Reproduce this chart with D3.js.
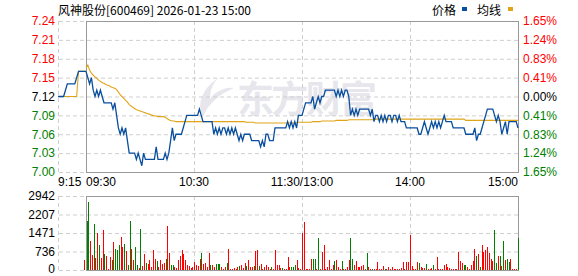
<!DOCTYPE html>
<html>
<head>
<meta charset="utf-8">
<script src="https://cdn.jsdelivr.net/npm/d3@7"></script>
<style>
  body { margin: 0; background: #fff; }
  svg { display: block; font-family: "Liberation Sans", Arial, sans-serif; }
</style>
</head>
<body>
<svg id="chart" width="578" height="276"></svg>
<script>
// --- data ---
let prevClose = 7.12

let priceTicks = [7.24, 7.21, 7.18, 7.15, 7.12, 7.09, 7.06, 7.03, 7.00]
let pctLabels = ['1.65%', '1.24%', '0.83%', '0.41%', '0.00%', '0.41%', '0.83%', '1.24%', '1.65%']
let volTicks = [0, 736, 1471, 2207, 2942]

let timeLabels = ['9:15', '09:30', '10:30', '11:30/13:00', '14:00', '15:00']
let timeIdx = [null, 0, 60, 120, 180, 240]   // minute index after 09:30 (9:15 is pre-market)

// 9:15 - 9:30 auction (one point per minute)
let prePrice = [7.12, 7.12, 7.12, 7.12, 7.13, 7.14, 7.14, 7.14, 7.14, 7.14, 7.15, 7.16, 7.16, 7.16, 7.16, 7.16]
let preAvg   = [7.12, 7.12, 7.12, 7.12, 7.12, 7.12, 7.12, 7.12, 7.12, 7.12, 7.12, 7.16, 7.16, 7.16, 7.16, 7.16]
let preVol = 398

// 09:30 - 15:00, one point per minute
let price = [
  7.16, 7.15, 7.14, 7.15, 7.13, 7.12, 7.13, 7.12, 7.13, 7.12, 7.11,
  7.11, 7.11, 7.11, 7.11, 7.10, 7.11, 7.09, 7.07, 7.06, 7.07,
  7.06, 7.07, 7.05, 7.03, 7.03, 7.03, 7.03, 7.02, 7.03, 7.02,
  7.01, 7.03, 7.02, 7.02, 7.02, 7.02, 7.02, 7.02, 7.04, 7.02,
  7.02, 7.02, 7.02, 7.03, 7.02, 7.03, 7.05, 7.07, 7.05, 7.06,
  7.06, 7.06, 7.06, 7.07, 7.08, 7.09, 7.09, 7.09, 7.09, 7.09,
  7.09, 7.09, 7.10, 7.09, 7.08, 7.08, 7.08, 7.08, 7.08, 7.08,
  7.06, 7.07, 7.06, 7.07, 7.06, 7.07, 7.07, 7.06, 7.07, 7.06,
  7.07, 7.06, 7.07, 7.06, 7.05, 7.06, 7.05, 7.06, 7.06, 7.06,
  7.06, 7.05, 7.05, 7.05, 7.05, 7.05, 7.04, 7.05, 7.04, 7.06,
  7.06, 7.05, 7.05, 7.05, 7.07, 7.07, 7.07, 7.07, 7.07, 7.07,
  7.07, 7.08, 7.07, 7.08, 7.07, 7.08, 7.07, 7.09, 7.09, 7.09,
  7.10, 7.11, 7.11, 7.11, 7.11, 7.12, 7.10, 7.11, 7.12, 7.11,
  7.12, 7.12, 7.13, 7.13, 7.13, 7.13, 7.13, 7.13, 7.12, 7.13,
  7.12, 7.13, 7.12, 7.13, 7.13, 7.12, 7.09, 7.10, 7.09, 7.10,
  7.09, 7.10, 7.10, 7.10, 7.10, 7.10, 7.10, 7.09, 7.10, 7.08,
  7.09, 7.09, 7.08, 7.09, 7.08, 7.09, 7.08, 7.09, 7.09, 7.08,
  7.09, 7.09, 7.08, 7.09, 7.08, 7.08, 7.08, 7.07, 7.07, 7.07,
  7.07, 7.07, 7.07, 7.07, 7.06, 7.06, 7.07, 7.08, 7.07, 7.06,
  7.07, 7.08, 7.07, 7.08, 7.07, 7.08, 7.07, 7.08, 7.09, 7.08,
  7.08, 7.08, 7.08, 7.07, 7.07, 7.07, 7.07, 7.07, 7.07, 7.07,
  7.06, 7.06, 7.06, 7.06, 7.06, 7.07, 7.05, 7.06, 7.06, 7.07,
  7.08, 7.09, 7.10, 7.10, 7.10, 7.10, 7.09, 7.08, 7.09, 7.08,
  7.06, 7.07, 7.08, 7.06, 7.08, 7.08, 7.08, 7.08, 7.08, 7.07
]

let avgPrice = [
  7.165, 7.170, 7.162, 7.157, 7.154, 7.151, 7.149, 7.146, 7.144, 7.142, 7.141,
  7.139, 7.138, 7.137, 7.135, 7.134, 7.133, 7.131, 7.127, 7.123, 7.120,
  7.117, 7.114, 7.111, 7.107, 7.105, 7.103, 7.101, 7.099, 7.098, 7.097,
  7.096, 7.095, 7.094, 7.093, 7.092, 7.091, 7.090, 7.089, 7.089, 7.088,
  7.088, 7.088, 7.088, 7.087, 7.085, 7.083, 7.082, 7.081, 7.081, 7.080,
  7.080, 7.080, 7.080, 7.080, 7.080, 7.080, 7.080, 7.080, 7.080, 7.080,
  7.080, 7.080, 7.080, 7.080, 7.080, 7.080, 7.080, 7.080, 7.080, 7.080,
  7.080, 7.080, 7.080, 7.080, 7.080, 7.080, 7.080, 7.080, 7.080, 7.080,
  7.080, 7.080, 7.080, 7.080, 7.080, 7.080, 7.080, 7.080, 7.079, 7.079,
  7.079, 7.079, 7.079, 7.078, 7.078, 7.078, 7.078, 7.078, 7.078, 7.078,
  7.078, 7.078, 7.078, 7.078, 7.078, 7.078, 7.078, 7.078, 7.078, 7.078,
  7.078, 7.078, 7.078, 7.078, 7.078, 7.078, 7.078, 7.079, 7.079, 7.079,
  7.079, 7.079, 7.079, 7.079, 7.079, 7.080, 7.080, 7.080, 7.080, 7.080,
  7.081, 7.081, 7.081, 7.081, 7.081, 7.081, 7.081, 7.081, 7.082, 7.082,
  7.082, 7.082, 7.082, 7.082, 7.082, 7.083, 7.083, 7.083, 7.083, 7.083,
  7.083, 7.083, 7.083, 7.083, 7.083, 7.083, 7.083, 7.083, 7.083, 7.083,
  7.084, 7.084, 7.084, 7.084, 7.084, 7.084, 7.084, 7.084, 7.084, 7.084,
  7.084, 7.084, 7.084, 7.084, 7.084, 7.084, 7.084, 7.084, 7.084, 7.084,
  7.084, 7.084, 7.084, 7.084, 7.084, 7.084, 7.084, 7.084, 7.084, 7.084,
  7.084, 7.084, 7.084, 7.084, 7.084, 7.084, 7.084, 7.084, 7.084, 7.084,
  7.084, 7.084, 7.084, 7.084, 7.084, 7.084, 7.084, 7.084, 7.084, 7.084,
  7.082, 7.082, 7.082, 7.082, 7.082, 7.082, 7.082, 7.082, 7.082, 7.082,
  7.082, 7.082, 7.082, 7.082, 7.082, 7.082, 7.082, 7.082, 7.082, 7.082,
  7.082, 7.082, 7.082, 7.082, 7.082, 7.082, 7.082, 7.082, 7.082, 7.082
]

// volume per minute and whether the bar is red (up) or green (down)
let volume = [
  1948, 2704, 1153, 596, 1829, 490, 1484, 994, 490, 1590, 636,
  557, 30, 517, 398, 1113, 823, 795, 994, 1312, 914,
  1034, 755, 199, 1948, 835, 398, 914, 199, 70, 1630,
  159, 636, 278, 239, 398, 107, 795, 437, 358, 107,
  398, 239, 278, 437, 1750, 676, 199, 199, 107, 80,
  398, 557, 795, 636, 398, 199, 159, 80, 100, 318,
  200, 150, 437, 664, 239, 278, 107, 688, 199, 199,
  107, 239, 239, 239, 107, 30, 107, 278, 835, 30,
  30, 80, 30, 107, 159, 199, 80, 278, 159, 398,
  107, 107, 159, 755, 795, 159, 239, 50, 107, 199,
  107, 30, 107, 30, 795, 199, 199, 70, 70, 30,
  30, 517, 107, 107, 107, 199, 398, 70, 30, 1458,
  1908, 30, 30, 30, 437, 437, 437, 30, 1260, 30,
  728, 994, 50, 107, 398, 30, 199, 358, 398, 107,
  30, 358, 50, 30, 107, 398, 1260, 437, 199, 358,
  107, 107, 159, 199, 30, 664, 107, 30, 30, 30,
  30, 318, 30, 30, 159, 30, 30, 107, 30, 107,
  30, 30, 30, 30, 80, 318, 30, 318, 318, 1392,
  159, 30, 30, 318, 265, 107, 80, 80, 239, 30,
  30, 80, 199, 30, 505, 30, 30, 30, 199, 239,
  107, 80, 30, 30, 30, 30, 716, 358, 265, 199,
  199, 107, 30, 199, 358, 835, 557, 636, 107, 994,
  730, 795, 914, 676, 437, 358, 1590, 278, 557, 557,
  159, 1153, 398, 437, 318, 437, 30, 30, 30, 1272
]
let volUp = [
  0, 0, 1, 1, 0, 1, 1, 0, 1, 1, 0,
  1, 1, 1, 0, 1, 0, 0, 0, 1, 1,
  0, 1, 0, 0, 1, 1, 0, 0, 1, 0,
  1, 1, 0, 1, 1, 1, 1, 1, 0, 1,
  1, 1, 1, 0, 1, 1, 0, 0, 1, 1,
  1, 1, 1, 1, 1, 1, 1, 1, 1, 1,
  1, 1, 1, 0, 1, 1, 1, 1, 0, 1,
  1, 0, 0, 0, 1, 1, 1, 0, 1, 1,
  1, 1, 1, 1, 0, 1, 1, 1, 0, 1,
  1, 1, 0, 1, 1, 0, 1, 1, 1, 1,
  1, 1, 0, 1, 1, 1, 1, 1, 0, 1,
  1, 1, 1, 0, 0, 0, 1, 1, 1, 1,
  1, 1, 1, 1, 1, 0, 0, 1, 0, 1,
  1, 1, 1, 1, 1, 1, 1, 0, 1, 1,
  1, 0, 1, 1, 1, 1, 0, 0, 1, 1,
  1, 1, 1, 1, 1, 0, 1, 1, 0, 1,
  1, 1, 1, 1, 1, 0, 1, 1, 1, 1,
  1, 1, 1, 1, 1, 1, 1, 1, 1, 1,
  1, 1, 1, 1, 0, 1, 1, 1, 0, 1,
  1, 1, 0, 1, 1, 1, 1, 1, 1, 1,
  1, 1, 1, 1, 1, 1, 1, 1, 1, 0,
  0, 1, 1, 1, 1, 1, 0, 1, 0, 1,
  1, 1, 1, 1, 1, 1, 0, 0, 1, 0,
  1, 0, 1, 0, 0, 1, 1, 1, 1, 0
]

// --- layout ---
let left = 58, open = 86, right = 518
let top1 = 21, bot1 = 172, top2 = 196, bot2 = 270
let red = '#ff0000', green = '#008000', gridColor = '#cfcfcf', frameColor = '#999'
let numFont = '"Liberation Sans", Arial, sans-serif'

let svg = d3.select('svg#chart')

let xPre = d3.scaleLinear().domain([0, prePrice.length - 1]).range([left, open])
let xMain = d3.scaleLinear().domain([0, price.length - 1]).range([open, right])
let xBar = d3.scaleLinear().domain([0, volume.length - 1]).range([open + 1, right])
let yPrice = d3.scaleLinear().domain([7.00, 7.24]).range([bot1, top1])
let yVol = d3.scaleLinear().domain([0, 2942]).range([bot2, top2])

let tickColor = v => v > prevClose ? red : (v < prevClose ? green : '#000')

// watermark
let wm = svg.append('g').attr('fill', '#e6e6ec')
wm.append('path')
  .attr('d', 'M218,78 C203,88 196,104 203,117 C208,104 219,94 234,88 C225,87 216,91 210,99 C210,91 212,85 218,78 Z')
wm.append('text')
  .attr('x', 237).attr('y', 113)
  .attr('font-family', '"Noto Sans CJK SC", sans-serif')
  .attr('font-weight', 'bold')
  .attr('font-size', 37)
  .attr('textLength', 140)
  .text('东方财富')

// dashed grid, price panel
let grid1 = svg.append('g')
  .attr('transform', `translate(${right}, 0)`)
  .call(d3.axisLeft(yPrice).tickValues(priceTicks).tickSize(right - left).tickFormat(''))
let grid1v = svg.append('g')
  .attr('transform', `translate(0, ${bot1})`)
  .call(d3.axisBottom(xMain).tickValues([60, 120, 180]).tickSize(-(bot1 - top1)).tickFormat(''))

// dashed grid, volume panel
let grid2 = svg.append('g')
  .attr('transform', `translate(${right}, 0)`)
  .call(d3.axisLeft(yVol).tickValues(volTicks).tickSize(right - left).tickFormat(''))
let grid2v = svg.append('g')
  .attr('transform', `translate(0, ${bot2})`)
  .call(d3.axisBottom(xMain).tickValues([60, 120, 180]).tickSize(-(bot2 - top2)).tickFormat(''))

;[grid1, grid1v, grid2, grid2v].forEach(g => {
  g.select('.domain').remove()
  g.selectAll('line').attr('stroke', gridColor).attr('stroke-dasharray', '4,3')
})

// left edge of pre-market area
svg.append('line').attr('x1', left + 0.5).attr('x2', left + 0.5).attr('y1', top1).attr('y2', bot1)
  .attr('stroke', gridColor).attr('stroke-dasharray', '4,3')
svg.append('line').attr('x1', left + 0.5).attr('x2', left + 0.5).attr('y1', top2).attr('y2', bot2)
  .attr('stroke', gridColor).attr('stroke-dasharray', '4,3')

// frames
svg.append('rect').attr('x', open + 0.5).attr('y', top1 + 0.5)
  .attr('width', right - open).attr('height', bot1 - top1)
  .attr('fill', 'none').attr('stroke', frameColor)
svg.append('rect').attr('x', open + 0.5).attr('y', top2 + 0.5)
  .attr('width', right - open).attr('height', bot2 - top2)
  .attr('fill', 'none').attr('stroke', frameColor)

// axis labels, price panel
let yLeft = svg.append('g')
  .attr('transform', `translate(${left - 1}, 0)`)
  .call(d3.axisLeft(yPrice).tickValues(priceTicks).tickSize(0).tickPadding(2).tickFormat(d3.format('.2f')))
yLeft.select('.domain').remove()
yLeft.selectAll('text')
  .attr('font-family', numFont).attr('font-size', 12)
  .attr('fill', d => tickColor(d))

let yRight = svg.append('g')
  .attr('transform', `translate(${right + 1}, 0)`)
  .call(d3.axisRight(yPrice).tickValues(priceTicks).tickSize(0).tickPadding(4)
    .tickFormat((d, i) => pctLabels[i]))
yRight.select('.domain').remove()
yRight.selectAll('text')
  .attr('font-family', numFont).attr('font-size', 12)
  .attr('fill', d => tickColor(d))

// axis labels, volume panel
let yVolAxis = svg.append('g')
  .attr('transform', `translate(${left - 1}, 0)`)
  .call(d3.axisLeft(yVol).tickValues(volTicks).tickSize(0).tickPadding(2).tickFormat(d3.format('d')))
yVolAxis.select('.domain').remove()
yVolAxis.selectAll('text')
  .attr('font-family', numFont).attr('font-size', 12)
  .attr('fill', '#000')
yVolAxis.selectAll('text').filter(d => d === 0).attr('dy', '0.2em')

// time labels
svg.append('g').selectAll('text')
  .data(timeLabels)
  .enter()
  .append('text')
  .attr('x', (d, i) => timeIdx[i] === null ? left : xMain(timeIdx[i]))
  .attr('y', 186)
  .attr('text-anchor', (d, i) => i < 2 ? 'start' : (i === timeLabels.length - 1 ? 'end' : 'middle'))
  .attr('font-family', numFont)
  .attr('font-size', 12)
  .attr('fill', '#000')
  .text(d => d)

// volume bars
svg.append('rect')
  .attr('x', Math.round(xPre(prePrice.length - 2)))
  .attr('y', yVol(preVol))
  .attr('width', 1)
  .attr('height', bot2 - yVol(preVol))
  .attr('fill', red)

svg.append('g').selectAll('rect')
  .data(volume)
  .enter()
  .append('rect')
  .attr('x', (d, i) => Math.floor(xBar(i)))
  .attr('y', d => yVol(d))
  .attr('width', 1)
  .attr('height', d => bot2 - yVol(d))
  .attr('fill', (d, i) => volUp[i] ? red : green)
  .attr('shape-rendering', 'crispEdges')

// average and price lines
let preLine = d3.line().x((d, i) => xPre(i)).y(d => yPrice(d))
let mainLine = d3.line().x((d, i) => xMain(i)).y(d => yPrice(d))

svg.append('path').attr('d', preLine(preAvg))
  .attr('fill', 'none').attr('stroke', '#e0a419').attr('stroke-width', 1.1)
svg.append('path').attr('d', mainLine(avgPrice))
  .attr('fill', 'none').attr('stroke', '#e0a419').attr('stroke-width', 1.1)
svg.append('path').attr('d', preLine(prePrice))
  .attr('fill', 'none').attr('stroke', '#0a4f9e').attr('stroke-width', 1.3)
svg.append('path').attr('d', mainLine(price))
  .attr('fill', 'none').attr('stroke', '#0a4f9e').attr('stroke-width', 1.3)

// title and legend
svg.append('text')
  .attr('x', left).attr('y', 15)
  .attr('font-family', '"Noto Sans CJK SC", "Liberation Sans", sans-serif')
  .attr('font-size', 12)
  .text('风神股份[600469] 2026-01-23 15:00')

svg.append('text').attr('x', 432).attr('y', 15)
  .attr('font-family', '"Noto Sans CJK SC", sans-serif').attr('font-size', 12).text('价格')
svg.append('rect').attr('x', 462).attr('y', 7).attr('width', 5).attr('height', 4).attr('fill', '#0a4f9e')
svg.append('text').attr('x', 477).attr('y', 15)
  .attr('font-family', '"Noto Sans CJK SC", sans-serif').attr('font-size', 12).text('均线')
svg.append('rect').attr('x', 508).attr('y', 7).attr('width', 5).attr('height', 4).attr('fill', '#e0a419')
</script>
</body>
</html>
